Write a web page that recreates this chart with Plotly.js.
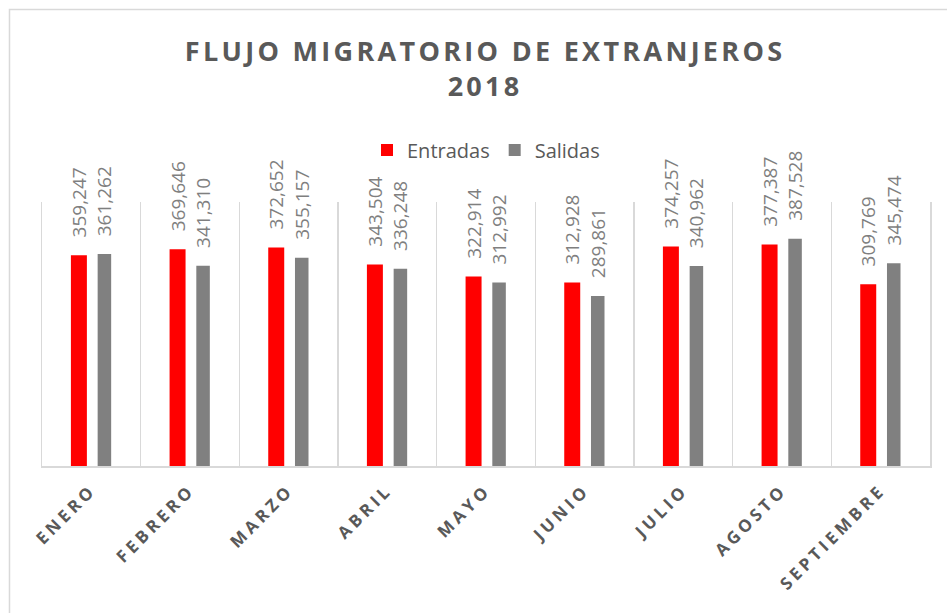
<!DOCTYPE html>
<html>
<head>
<meta charset="utf-8">
<script src="https://cdn.plot.ly/plotly-3.0.1.min.js"></script>
<style>
  html, body { margin: 0; padding: 0; background: #ffffff; }
  #chart { width: 947px; height: 613px; }
  .gtitle { letter-spacing: 3.3px; }
  .xtick text { letter-spacing: 3.8px; }
</style>
</head>
<body>
<div id="chart"></div>
<script>
const categories = ['ENERO', 'FEBRERO', 'MARZO', 'ABRIL', 'MAYO', 'JUNIO', 'JULIO', 'AGOSTO', 'SEPTIEMBRE'];
const entradas = [359247, 369646, 372652, 343504, 322914, 312928, 374257, 377387, 309769];
const salidas  = [361262, 341310, 355157, 336248, 312992, 289861, 340962, 387528, 345474];
const seriesNames = ['Entradas', 'Salidas'];

const labelFont = { family: 'Open Sans, sans-serif', size: 19, color: '#7f7f7f' };
const pad = '\u00a0\u00a0\u00a0';

const traces = [
  {
    type: 'bar', name: seriesNames[0], x: categories, y: entradas,
    marker: { color: '#ff0000' },
    width: 0.162, offset: -0.207,
    texttemplate: pad + '%{y:,}', textposition: 'outside', textangle: -90,
    textfont: labelFont, constraintext: 'none', cliponaxis: false,
    hoverinfo: 'none'
  },
  {
    type: 'bar', name: seriesNames[1], x: categories, y: salidas,
    marker: { color: '#808080' },
    width: 0.137, offset: 0.064,
    texttemplate: pad + '%{y:,}', textposition: 'outside', textangle: -90,
    textfont: labelFont, constraintext: 'none', cliponaxis: false,
    hoverinfo: 'none'
  }
];

const layout = {
  width: 947, height: 613,
  margin: { l: 42, r: 17, t: 202, b: 147, pad: 0 },
  paper_bgcolor: '#ffffff', plot_bgcolor: '#ffffff',
  barmode: 'overlay',
  showlegend: true,
  title: {
    text: 'FLUJO MIGRATORIO DE EXTRANJEROS<br>2018',
    font: { family: 'Open Sans, sans-serif', size: 27, color: '#595959', weight: 'bold' },
    x: 0.499, xref: 'paper', xanchor: 'center',
    y: 0.9, yref: 'container', yanchor: 'top'
  },
  legend: {
    orientation: 'h', x: 0.5, xanchor: 'center', xref: 'paper',
    y: 1.197, yanchor: 'middle',
    font: { family: 'Open Sans, sans-serif', size: 20, color: '#595959' },
    itemsizing: 'constant'
  },
  xaxis: {
    type: 'category', automargin: false,
    showline: true, linecolor: '#d9d9d9', linewidth: 1.5,
    showgrid: true, gridcolor: '#d9d9d9', gridwidth: 1.5,
    tickson: 'boundaries', ticks: '',
    tickangle: -45, ticklabelstandoff: 6,
    tickfont: { family: 'Open Sans, sans-serif', size: 17, color: '#595959', weight: 'bold' },
    fixedrange: true
  },
  yaxis: {
    range: [0, 450000], automargin: false,
    showticklabels: false, showgrid: false, zeroline: false, ticks: '',
    showline: true, mirror: true, linecolor: '#d9d9d9', linewidth: 1.5,
    fixedrange: true
  },
  shapes: [
    {
      type: 'rect', xref: 'paper', yref: 'paper',
      x0: -0.0366, x1: 1.04, y0: -0.6, y1: 1.729,
      line: { color: '#d9d9d9', width: 1.5 }, fillcolor: 'rgba(0,0,0,0)', layer: 'below'
    }
  ]
};

Plotly.newPlot('chart', traces, layout, { displayModeBar: false, staticPlot: true });
</script>
</body>
</html>
